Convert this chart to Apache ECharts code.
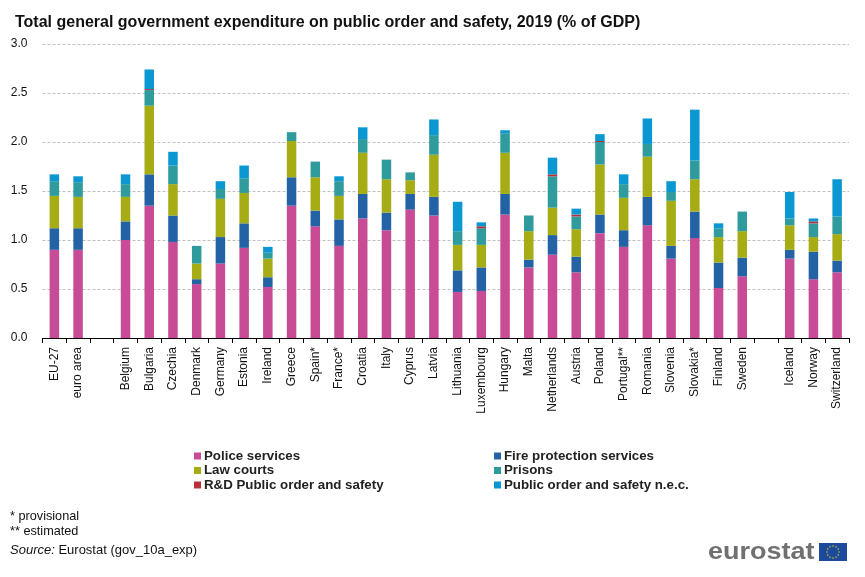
<!DOCTYPE html>
<html>
<head>
<meta charset="utf-8">
<title>Public order and safety</title>
<style>
html,body{margin:0;padding:0;background:#fff}
#main{width:865px;height:577px}
</style>
</head>
<body>
<div id="main"></div>
<script src="https://cdn.jsdelivr.net/npm/echarts@6/dist/echarts.min.js"></script>
<script>
// categories, blank entries are the gaps between country groups
var categories = ['EU-27','euro area','','Belgium','Bulgaria','Czechia','Denmark','Germany','Estonia','Ireland','Greece','Spain*','France*','Croatia','Italy','Cyprus','Latvia','Lithuania','Luxembourg','Hungary','Malta','Netherlands','Austria','Poland','Portugal**','Romania','Slovenia','Slovakia*','Finland','Sweden','','Iceland','Norway','Switzerland']

var police = [0.90,0.90,null,1.00,1.35,0.98,0.55,0.76,0.92,0.52,1.35,1.14,0.94,1.22,1.10,1.31,1.25,0.47,0.48,1.26,0.72,0.85,0.67,1.07,0.93,1.15,0.81,1.02,0.51,0.63,null,0.81,0.60,0.67]
var fire = [0.22,0.22,null,0.19,0.32,0.27,0.05,0.27,0.25,0.10,0.29,0.16,0.27,0.25,0.18,0.16,0.19,0.22,0.24,0.21,0.08,0.20,0.16,0.19,0.17,0.29,0.13,0.27,0.26,0.19,null,0.09,0.28,0.12]
var courts = [0.33,0.32,null,0.25,0.70,0.32,0.16,0.39,0.31,0.19,0.37,0.34,0.24,0.42,0.34,0.14,0.43,0.26,0.23,0.42,0.29,0.28,0.28,0.51,0.33,0.41,0.46,0.33,0.26,0.27,null,0.25,0.15,0.27]
var prisons = [0.15,0.15,null,0.13,0.16,0.19,0.18,0.10,0.15,0.06,0.09,0.16,0.15,0.14,0.20,0.08,0.20,0.14,0.17,0.20,0.16,0.32,0.13,0.23,0.14,0.13,0.09,0.19,0.09,0.20,null,0.07,0.14,0.18]
var rnd = [0,0,null,0,0.01,0,0,0,0,0,0,0,0,0,0,0,0,0,0.02,0,0,0.02,0.02,0.01,0,0,0,0,0,0,null,0,0.02,0]
var nec = [0.07,0.06,null,0.10,0.20,0.14,0,0.08,0.13,0.06,0,0,0.05,0.12,0,0,0.16,0.30,0.04,0.03,0,0.17,0.06,0.07,0.10,0.26,0.11,0.52,0.05,0,null,0.27,0.03,0.38]

var seriesNames = ['Police services','Fire protection services','Law courts','Prisons','R&D Public order and safety','Public order and safety n.e.c.']
var seriesValues = [police,fire,courts,prisons,rnd,nec]
var seriesColors = ['#C84B96','#2262A5','#A6AC14','#2F9B9C','#B9303A','#0B98D2']

var fontName = '"Liberation Sans", Arial, sans-serif'

var seriesList = []
for(var i=0;i<seriesNames.length;i++){
    seriesList.push({
        name: seriesNames[i],
        type: 'bar',
        stack: 'total',
        barWidth: 9.5,
        data: seriesValues[i],
        itemStyle: {color: seriesColors[i]}
    })
}

// legend is two columns, so two vertical legends
function makeLegend (names, left) {
    return {
        orient: 'vertical',
        left: left,
        top: 444,
        itemWidth: 7,
        itemHeight: 7,
        itemGap: 0.5,
        icon: 'rect',
        selectedMode: false,
        data: names,
        textStyle: {fontFamily: fontName, fontSize: 13.3, lineHeight: 14, fontWeight: 'bold', color: '#222', padding: [0,0,0,-2]}
    }
}

// eurostat flag stars
var stars = []
for(var k=0;k<12;k++){
    stars.push({
        type: 'circle',
        shape: {cx: 833 + 6*Math.cos(k*Math.PI/6), cy: 552 + 6*Math.sin(k*Math.PI/6), r: 0.7},
        style: {fill: '#F5D90A'}
    })
}

var chartDom = document.getElementById('main')
var chart = echarts.init(chartDom)

chart.setOption({
    animation: false,
    backgroundColor: '#fff',
    title: {
        text: 'Total general government expenditure on public order and safety, 2019 (% of GDP)',
        left: 10,
        top: 10,
        textStyle: {fontFamily: fontName, fontSize: 16, fontWeight: 'bold', color: '#111'}
    },
    legend: [
        makeLegend(['Police services','Law courts','R&D Public order and safety'], 189),
        makeLegend(['Fire protection services','Prisons','Public order and safety n.e.c.'], 489)
    ],
    grid: {left: 42.5, right: 16, top: 44, height: 294},
    xAxis: {
        type: 'category',
        data: categories,
        axisLine: {lineStyle: {color: '#000', width: 1}},
        axisTick: {show: true, length: 5, lineStyle: {color: '#000'}},
        axisLabel: {
            interval: 0,
            rotate: 90,
            margin: 9,
            fontFamily: fontName,
            fontSize: 12,
            color: '#111'
        }
    },
    yAxis: {
        type: 'value',
        min: 0,
        max: 3,
        interval: 0.5,
        axisLine: {show: false},
        axisTick: {show: false},
        axisLabel: {
            margin: 15,
            fontFamily: fontName,
            fontSize: 12,
            color: '#111',
            formatter: function (v) {return v.toFixed(1)}
        },
        splitLine: {lineStyle: {color: '#c0c0c0', type: [3,2], width: 1}}
    },
    series: seriesList,
    graphic: [
        {type: 'text', left: 10, top: 510, style: {text: '* provisional', font: '12.7px ' + fontName, fill: '#111'}},
        {type: 'text', left: 10, top: 525, style: {text: '** estimated', font: '12.7px ' + fontName, fill: '#111'}},
        {type: 'text', left: 10, top: 544, style: {
            text: '{i|Source:} Eurostat (gov_10a_exp)',
            font: '13px ' + fontName,
            fill: '#111',
            rich: {i: {fontStyle: 'italic', fontFamily: fontName, fontSize: 13, fill: '#111'}}
        }},
        {type: 'text', x: 708, y: 540, scaleX: 1.125, style: {text: 'eurostat', font: 'bold 24px ' + fontName, fill: '#707070'}},
        {type: 'rect', shape: {x: 819, y: 543, width: 28, height: 18}, style: {fill: '#1D4A9C'}},
        {type: 'group', children: stars}
    ]
})

window.onresize = function(){
    chart.resize()
}
</script>
</body>
</html>
